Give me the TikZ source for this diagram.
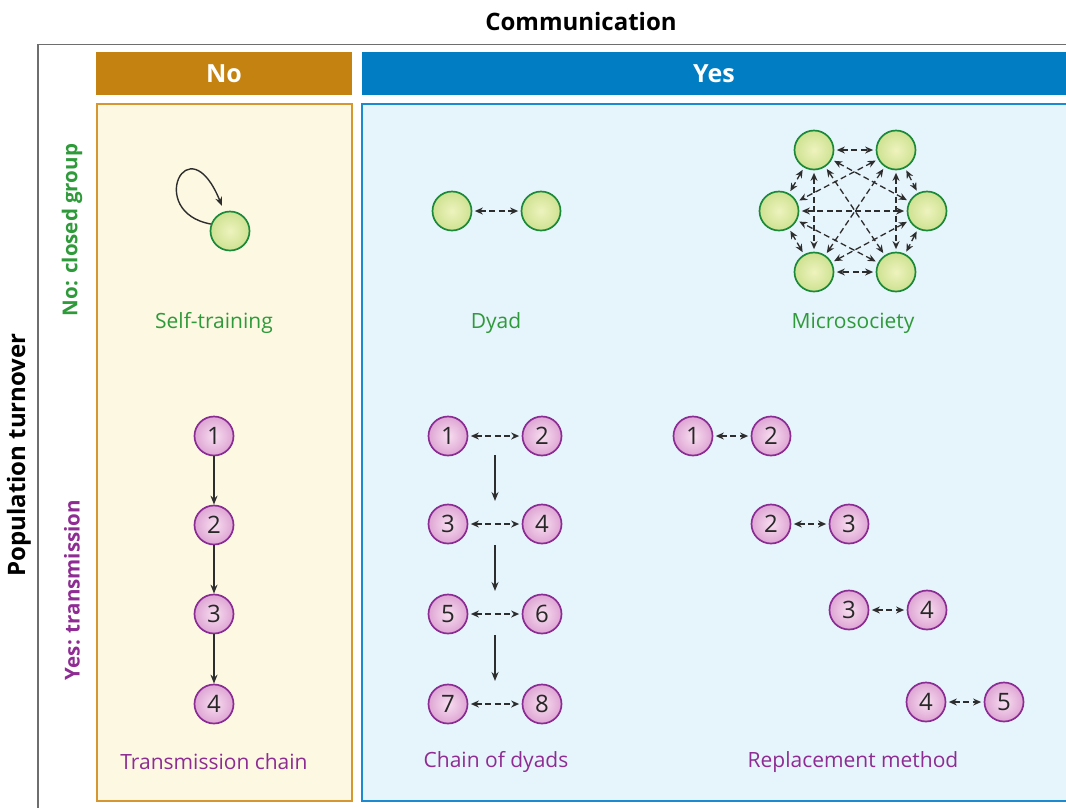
\documentclass[tikz,border=0pt]{standalone}
\usepackage{fontspec}
\setmainfont{Open Sans}
\usetikzlibrary{arrows.meta}

\definecolor{framegray}{RGB}{110,110,110}
\definecolor{nohead}{RGB}{196,130,17}
\definecolor{nofill}{RGB}{253,248,226}
\definecolor{noedge}{RGB}{214,150,50}
\definecolor{yeshead}{RGB}{0,125,195}
\definecolor{yesfill}{RGB}{230,244,251}
\definecolor{yesedge}{RGB}{28,138,208}
\definecolor{gtext}{RGB}{46,154,58}
\definecolor{ptext}{RGB}{142,44,147}
\definecolor{gedge}{RGB}{26,138,58}
\definecolor{ginner}{RGB}{238,243,190}
\definecolor{gouter}{RGB}{206,226,145}
\definecolor{pedge}{RGB}{139,44,148}
\definecolor{pinner}{RGB}{248,222,240}
\definecolor{pouter}{RGB}{222,165,212}
\definecolor{arrowgray}{RGB}{45,45,45}
\definecolor{numgray}{RGB}{40,40,40}

\tikzset{
  gnode/.style={circle, draw=gedge, line width=1.7pt, minimum size=39pt, inner sep=0pt,
    inner color=ginner, outer color=gouter},
  pnode/.style={circle, draw=pedge, line width=1.7pt, minimum size=39pt, inner sep=0pt,
    inner color=pinner, outer color=pouter, text=numgray, font=\fontsize{24}{26}\selectfont},
  dbl/.style={draw=arrowgray, line width=1.3pt, dash pattern=on 6pt off 3.5pt,
    {Stealth[length=8pt,width=7pt]}-{Stealth[length=8pt,width=7pt]},
    shorten <=2.5pt, shorten >=2.5pt},
  sgl/.style={draw=arrowgray, line width=1.4pt, -{Stealth[length=9pt,width=7pt]}},
  glabel/.style={text=gtext, font=\fontsize{21}{24}\selectfont},
  plabel/.style={text=ptext, font=\fontsize{21}{24}\selectfont},
  headtext/.style={text=white, font=\bfseries\fontsize{25}{28}\selectfont},
  axistext/.style={font=\bfseries\fontsize{24}{28}\selectfont},
  rowtext/.style={font=\bfseries\fontsize{20.5}{24}\selectfont},
}

\begin{document}
\begin{tikzpicture}[x=1pt,y=-1pt]
\useasboundingbox (0,0) rectangle (1066,807);
\clip (0,0) rectangle (1066,807);

% outer frame and axis titles
\draw[framegray, line width=1.2pt] (38,812) -- (38,44.5) -- (1070,44.5);
\node[axistext] (comm) at (581,21) {Communication};
\node[axistext, rotate=90] (turn) at (19,455) {Population turnover};
\node[rowtext, rotate=90, text=gtext] (closed) at (72,230) {No: closed group};
\node[rowtext, rotate=90, text=ptext] (trans) at (72,590) {Yes: transmission};

% column headers
\fill[nohead] (96,52) rectangle (352,95);
\fill[yeshead] (362,52) rectangle (1070,95);
\node[headtext] (nolbl) at (224,74) {No};
\node[headtext] (yeslbl) at (714,74) {Yes};

% panels
\draw[noedge, fill=nofill, line width=1.6pt] (97,104) rectangle (352,801);
\draw[yesedge, fill=yesfill, line width=1.6pt] (362,104) rectangle (1075,801);

% self-training
\node[gnode] (st) at (230,231) {};
\draw[sgl] (st.160) .. controls (145,212) and (188,122) .. (222,206);
\node[glabel] (stl) at (214,323) {Self-training};

% dyad
\node[gnode] (d1) at (452,211) {};
\node[gnode] (d2) at (541,211) {};
\draw[dbl] (d1) -- (d2);
\node[glabel] (dl) at (496,323) {Dyad};

% microsociety: complete graph on six members
\node[gnode] (m1) at (814,150) {};
\node[gnode] (m2) at (896,150) {};
\node[gnode] (m3) at (927,211) {};
\node[gnode] (m4) at (896,272) {};
\node[gnode] (m5) at (814,272) {};
\node[gnode] (m6) at (779,211) {};
\foreach \a/\b in {m1/m2,m1/m3,m1/m4,m1/m5,m1/m6,m2/m3,m2/m4,m2/m5,m2/m6,
                   m3/m4,m3/m5,m3/m6,m4/m5,m4/m6,m5/m6}
  \draw[dbl] (\a) -- (\b);
\node[glabel] (ml) at (853,323) {Microsociety};

% transmission chain
\node[pnode] (t1) at (214,436) {1};
\node[pnode] (t2) at (214,525) {2};
\node[pnode] (t3) at (214,614) {3};
\node[pnode] (t4) at (214,704) {4};
\draw[sgl] (t1) -- (t2);
\draw[sgl] (t2) -- (t3);
\draw[sgl] (t3) -- (t4);
\node[plabel] (tl) at (214,762) {Transmission chain};

% chain of dyads
\node[pnode] (c1) at (448,436) {1};
\node[pnode] (c2) at (542,436) {2};
\node[pnode] (c3) at (448,524) {3};
\node[pnode] (c4) at (542,524) {4};
\node[pnode] (c5) at (448,614) {5};
\node[pnode] (c6) at (542,614) {6};
\node[pnode] (c7) at (448,704) {7};
\node[pnode] (c8) at (542,704) {8};
\draw[dbl] (c1) -- (c2);
\draw[dbl] (c3) -- (c4);
\draw[dbl] (c5) -- (c6);
\draw[dbl] (c7) -- (c8);
\coordinate (g1a) at (495,455);
\coordinate (g1b) at (495,501);
\coordinate (g2a) at (495,545);
\coordinate (g2b) at (495,591);
\coordinate (g3a) at (495,635);
\coordinate (g3b) at (495,681);
\draw[sgl] (g1a) -- (g1b);
\draw[sgl] (g2a) -- (g2b);
\draw[sgl] (g3a) -- (g3b);
\node[plabel] (cl) at (496,762) {Chain of dyads};

% replacement method
\node[pnode] (r1) at (693,436) {1};
\node[pnode] (r2) at (771,436) {2};
\node[pnode] (r3) at (771,524) {2};
\node[pnode] (r4) at (849,524) {3};
\node[pnode] (r5) at (849,610) {3};
\node[pnode] (r6) at (927,610) {4};
\node[pnode] (r7) at (926,702) {4};
\node[pnode] (r8) at (1004,702) {5};
\draw[dbl] (r1) -- (r2);
\draw[dbl] (r3) -- (r4);
\draw[dbl] (r5) -- (r6);
\draw[dbl] (r7) -- (r8);
\node[plabel] (rl) at (853,762) {Replacement method};
\end{tikzpicture}
\end{document}
